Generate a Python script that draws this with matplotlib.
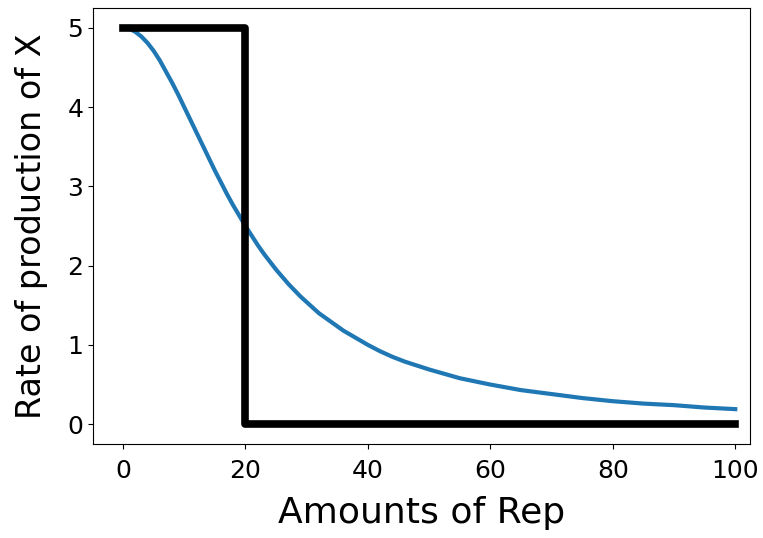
import matplotlib
matplotlib.use("Agg")
import matplotlib.pyplot as plt

# Graded response of X production vs. repressor amount
rep_amounts = [0, 1, 2, 3, 4, 5, 6, 7, 8, 9, 10, 11, 12, 13, 14, 15, 16, 17, 18, 19,
               20, 21, 22, 23, 24, 25, 26, 27, 28, 29, 30, 32, 34, 36, 38, 40, 42, 44,
               46, 48, 50, 55, 60, 65, 70, 75, 80, 85, 90, 95, 100]
rate_graded = [5.00, 4.99, 4.95, 4.89, 4.81, 4.71, 4.59, 4.45, 4.31, 4.16, 4.00, 3.84,
               3.68, 3.52, 3.36, 3.20, 3.05, 2.90, 2.76, 2.63, 2.50, 2.38, 2.26, 2.15,
               2.05, 1.95, 1.86, 1.77, 1.69, 1.61, 1.54, 1.40, 1.29, 1.18, 1.09, 1.00,
               0.92, 0.85, 0.79, 0.74, 0.69, 0.58, 0.50, 0.43, 0.38, 0.33, 0.29, 0.26,
               0.24, 0.21, 0.19]

# Idealised switch-like response
step_x = [0, 20, 20, 100]
step_y = [5, 5, 0, 0]

fig = plt.figure(figsize=(7.63, 5.38), dpi=100)
ax = fig.add_axes([0.1219, 0.1747, 0.861, 0.8104])

ax.plot(rep_amounts, rate_graded, color="#1f77b4", linewidth=3)
ax.plot(step_x, step_y, color="black", linewidth=5.5)

ax.set_xlim(-4.9, 102.4)
ax.set_xlabel("Amounts of Rep", fontsize=26, labelpad=10)
ax.set_ylabel("Rate of production of X", fontsize=24, labelpad=14)
ax.tick_params(labelsize=18)
ax.tick_params(axis="x", pad=7)
ax.set_xticks([0, 20, 40, 60, 80, 100])
ax.set_yticks([0, 1, 2, 3, 4, 5])

fig.savefig("out.png", dpi=100)
